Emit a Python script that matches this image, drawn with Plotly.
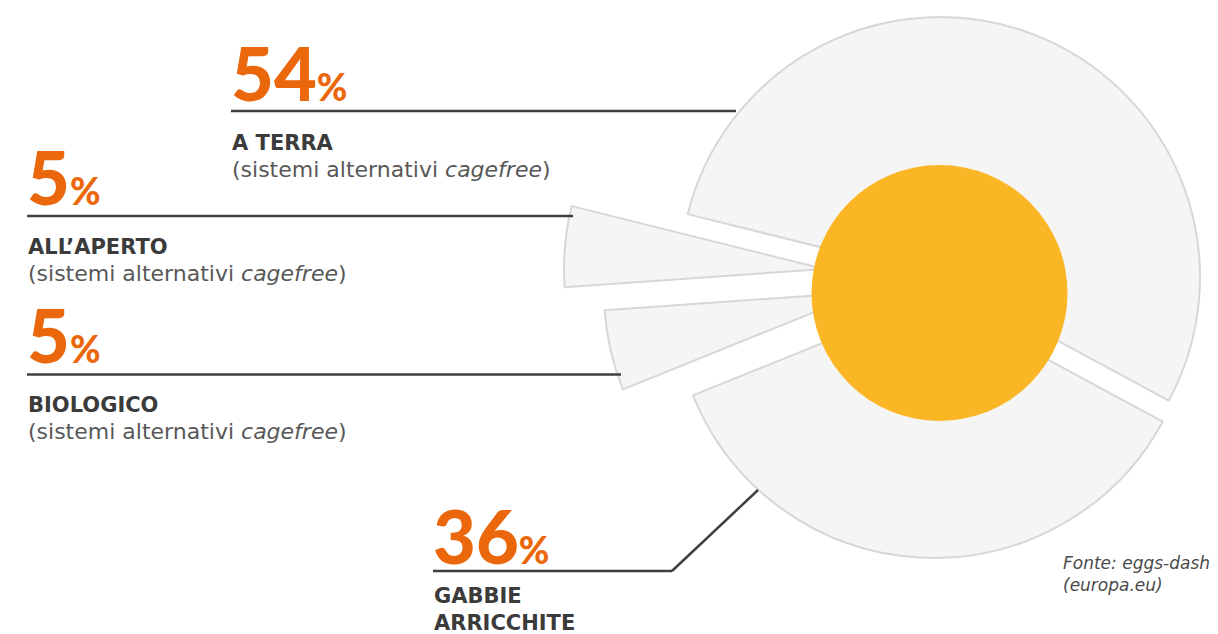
import plotly.graph_objects as go

# ---------------- data ----------------
categories = ["A TERRA", "ALL'APERTO", "BIOLOGICO", "GABBIE ARRICCHITE"]
values = [54, 5, 5, 36]
pct_labels = ["54", "5", "5", "36"]
name_lines = [["A TERRA"], ["ALL’APERTO"], ["BIOLOGICO"], ["GABBIE", "ARRICCHITE"]]
sub_labels = ["(sistemi alternativi <i>cagefree</i>)",
              "(sistemi alternativi <i>cagefree</i>)",
              "(sistemi alternativi <i>cagefree</i>)",
              ""]
source_text = "<i>Fonte: eggs-dashboard<br>(europa.eu)</i>"

# ---------------- layout / style ----------------
OFF = 8                        # page body margin (px)
W, H = 1218 - OFF, 634 - OFF   # figure size so it ends at the window edge
R = 260                        # slice radius (px)
START_ANGLE = 331.6            # math angle where first slice starts (ccw)
# exploded slice centres (window px) -- layout positions
centers = [(940, 277), (824, 269), (864, 292), (934, 298)]
yolk_center, yolk_r = (939.5, 293), 128

FILL = "#F5F5F5"
BORDER = "#D7D7D7"
YOLK = "#FAB624"
ORANGE = "#EB670C"
DARK = "#3B3B3B"
GREY = "#585858"
LINE = "#3F3F3F"
NUM_FONT = "Lato"
TXT_FONT = "DejaVu Sans"


def fx(px):
    return (px - OFF) / W


def fy(py):
    return 1 - (py - OFF) / H


fig = go.Figure()
total = sum(values)
cum = 0
for cat, v, (cx, cy) in zip(categories, values, centers):
    a0 = START_ANGLE + cum / total * 360
    a1 = a0 + v / total * 360
    cum += v
    rot = 90 - a1
    rot = ((rot + 180) % 360) - 180
    fig.add_trace(go.Pie(
        labels=[cat, ""], values=[v, total - v], sort=False,
        direction="clockwise", rotation=rot,
        marker=dict(colors=[FILL, "rgba(0,0,0,0)"],
                    line=dict(color=[BORDER, "rgba(0,0,0,0)"], width=[2, 0])),
        textinfo="none", hoverinfo="skip", showlegend=False,
        domain=dict(x=[fx(cx - R), fx(cx + R)], y=[fy(cy + R), fy(cy - R)]),
    ))

# yolk
yx, yy = yolk_center
fig.add_trace(go.Pie(
    labels=["tuorlo"], values=[1], sort=False,
    marker=dict(colors=[YOLK], line=dict(width=0)),
    textinfo="none", hoverinfo="skip", showlegend=False,
    domain=dict(x=[fx(yx - yolk_r), fx(yx + yolk_r)],
                y=[fy(yy + yolk_r), fy(yy - yolk_r)]),
))

# label anchor positions (window px)
label_pos = [
    dict(x=231, num_bottom=119, rule_y=111, rule_end=736, name_top=129),
    dict(x=27, num_bottom=223, rule_y=216, rule_end=573, name_top=233),
    dict(x=27, num_bottom=381, rule_y=374.5, rule_end=621, name_top=391),
    dict(x=433, num_bottom=582, rule_y=571, rule_end=672, name_top=582),
]

annotations = []
shapes = []
for i, p in enumerate(label_pos):
    annotations.append(dict(
        x=fx(p["x"] - 2), y=fy(p["num_bottom"]), xref="paper", yref="paper",
        xanchor="left", yanchor="bottom", showarrow=False,
        text=f"{pct_labels[i]}<span style='font-size:37px'>%</span>",
        font=dict(family=NUM_FONT, size=74, color=ORANGE, weight=900),
    ))
    name = "<br>".join(f"<b>{ln}</b>" for ln in name_lines[i])
    txt = name
    if sub_labels[i]:
        txt += (f"<br><span style='color:{GREY};font-size:22px'>"
                f"{sub_labels[i]}</span>")
    annotations.append(dict(
        x=fx(p["x"] - 1), y=fy(p["name_top"]), xref="paper", yref="paper",
        xanchor="left", yanchor="top", align="left", showarrow=False,
        text=txt, font=dict(family=TXT_FONT, size=21, color=DARK),
    ))
    shapes.append(dict(type="line", xref="paper", yref="paper",
                       x0=fx(p["x"]), x1=fx(p["rule_end"]),
                       y0=fy(p["rule_y"]), y1=fy(p["rule_y"]),
                       line=dict(color=LINE, width=2.5)))

# diagonal leader for GABBIE
shapes.append(dict(type="line", xref="paper", yref="paper",
                   x0=fx(672), y0=fy(571), x1=fx(758), y1=fy(490),
                   line=dict(color=LINE, width=2.5)))

annotations.append(dict(
    x=fx(1061), y=fy(551), xref="paper", yref="paper",
    xanchor="left", yanchor="top", align="left", showarrow=False,
    text=source_text, font=dict(family=TXT_FONT, size=17, color="#4A4A4A"),
))

fig.update_layout(
    width=W, height=H, margin=dict(l=0, r=0, t=0, b=0),
    paper_bgcolor="white", plot_bgcolor="white",
    font=dict(family=TXT_FONT),
    annotations=annotations, shapes=shapes,
)

fig.write_html("out.html")
